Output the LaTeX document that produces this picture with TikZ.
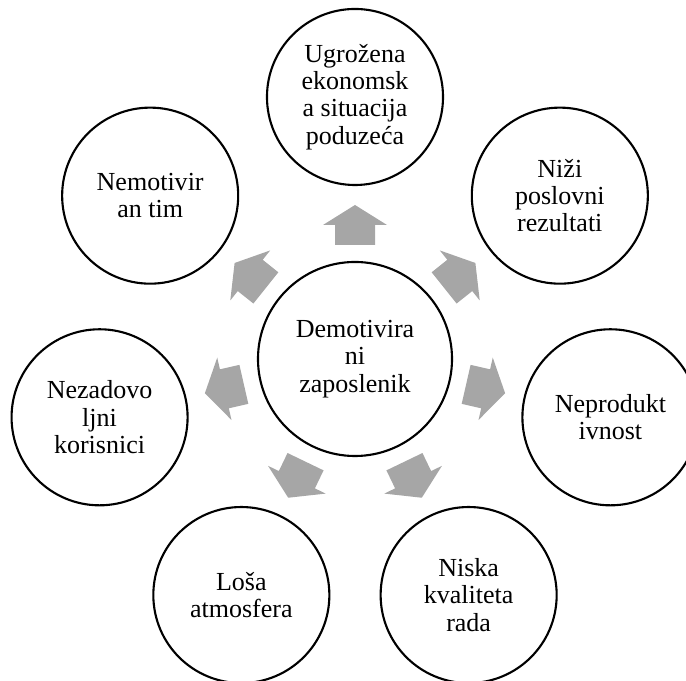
\documentclass[tikz,border=0pt]{standalone}
\usepackage{fontspec}
\setmainfont{Liberation Serif}
\usetikzlibrary{positioning,calc}
\definecolor{arrowgray}{RGB}{166,166,166}
\begin{document}
\begin{tikzpicture}[x=0.025cm, y=0.025cm,
  bubble/.style={circle, draw, line width=1.5pt, minimum size=4.4cm, inner sep=0pt,
    align=center, font=\fontsize{18.5}{19.4}\selectfont},
  hub/.style={bubble, minimum size=4.85cm},
  blockarrow/.style={fill=arrowgray, draw=none}]
  \useasboundingbox (0,0) rectangle (686,681);
  % Centre
  \node[hub] (zap) at (355,322) {Demotivira\\ni\\zaposlenik};
  % Consequences
  \node[bubble] (ekon) at ($(zap)+(90:262)$) {Ugrožena\\ekonomsk\\a situacija\\poduzeća};
  \node[bubble] (rez) at ($(zap)+(38.57:262)$) {Niži\\poslovni\\rezultati};
  \node[bubble] (neprod) at ($(zap)+(-12.86:262)$) {Neprodukt\\ivnost};
  \node[bubble] (kval) at ($(zap)+(-64.29:262)$) {Niska\\kvaliteta\\rada};
  \node[bubble] (atm) at ($(zap)+(-115.71:262)$) {Loša\\atmosfera};
  \node[bubble] (kor) at ($(zap)+(-167.14:262)$) {Nezadovo\\ljni\\korisnici};
  \node[bubble] (tim) at ($(zap)+(141.43:262)$) {Nemotivir\\an tim};
  % Arrows
  \foreach \a in {90,38.57,-12.86,-64.29,-115.71,-167.14,141.43}
    \fill[blockarrow, shift={(zap.center)}, rotate=\a]
      (114,-20) -- (134,-20) -- (134,-32) -- (154,0) -- (134,32) -- (134,20) -- (114,20) -- cycle;
\end{tikzpicture}
\end{document}
